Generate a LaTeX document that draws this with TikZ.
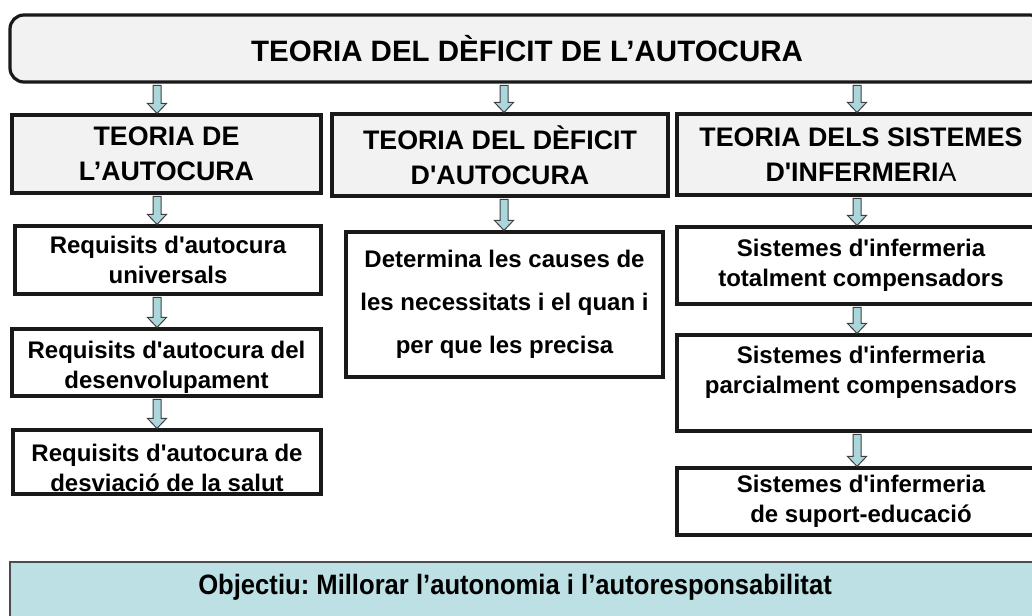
\documentclass[tikz,border=0pt]{standalone}
\usepackage{fontspec}
\usepackage{graphicx}
\setmainfont{Liberation Sans}
\usetikzlibrary{calc}
\frenchspacing

\definecolor{boxgrey}{RGB}{242,242,242}
\definecolor{arrowblue}{RGB}{170,214,220}
\definecolor{goalblue}{RGB}{189,224,229}

\newcommand{\ap}{\textquotesingle}
% hollow block arrow from #1 down to #2
\newcommand{\blockarrow}[2]{%
  \coordinate (arrs) at (#1);
  \coordinate (arre) at (#2);
  \draw[arrowbox] ($(arrs)+(-4,1.8)$) -- ($(arre)+(-4,-10)$) -- ($(arre)+(-9.5,-10)$) -- (arre)
    -- ($(arre)+(9.5,-10)$) -- ($(arre)+(4,-10)$) -- ($(arrs)+(4,1.8)$) -- cycle;}

\tikzset{
  titlebox/.style={draw=black!90, line width=3.2pt, fill=boxgrey, rounded corners=14pt,
    minimum width=1034pt, minimum height=67pt, inner sep=0pt,
    font=\fontsize{29.5}{35}\selectfont\bfseries},
  theorybox/.style={draw=black!90, line width=3.2pt, fill=boxgrey, align=center, inner sep=0pt,
    font=\fontsize{26.8}{35}\selectfont\bfseries},
  reqbox/.style={draw=black!90, line width=3.2pt, fill=white, align=center, inner sep=0pt,
    font=\fontsize{24}{30}\selectfont\bfseries},
  arrowbox/.style={fill=arrowblue, draw=black!75, line width=1pt},
  goalline/.style={draw=black!70, line width=2pt},
  goaltext/.style={inner sep=0pt, font=\fontsize{28}{30}\selectfont\bfseries}
}

\begin{document}
\begin{tikzpicture}[x=1pt,y={(0pt,-1pt)}]
\useasboundingbox (0,0) rectangle (1032,615);
\clip (0,0) rectangle (1032,615);

\coordinate (colL) at (157,0);
\coordinate (colM) at (504,0);
\coordinate (colR) at (857,0);

\node[titlebox] (top) at (527,48.5) {TEORIA DEL DÈFICIT DE L’AUTOCURA};

% three theories
\node[theorybox, minimum width=309pt, minimum height=78pt] (A) at (166.5,154) {TEORIA DE\\L’AUTOCURA};
\node[theorybox, minimum width=336pt, minimum height=82pt] (B) at (500,155) {TEORIA DEL DÈFICIT\\D\ap AUTOCURA};
\node[theorybox, minimum width=368pt, minimum height=81pt] (C) at (861,154.5) {TEORIA DELS SISTEMES\\D\ap INFERMERI{\mdseries A}};

% left column
\node[reqbox, minimum width=306pt, minimum height=68pt] (L1) at (168,260) {Requisits d\ap autocura\\universals};
\node[reqbox, minimum width=309pt, minimum height=67pt] (L2) at (166.5,362.5) {\mbox{}\\[-3pt]Requisits d\ap autocura del\\desenvolupament};
\node[reqbox, minimum width=308pt, minimum height=64pt] (L3) at (167,462) {\mbox{}\\[0pt]Requisits d\ap autocura de\\desviació de la salut};

% middle column
\node[reqbox, minimum width=317pt, minimum height=145pt, font=\fontsize{24}{43}\selectfont\bfseries] (M1) at (504.5,304.5)
  {Determina les causes de\\les necessitats i el quan i\\per que les precisa};

% right column
\node[reqbox, minimum width=368pt, minimum height=77pt] (R1) at (861,265.5) {Sistemes d\ap infermeria\\totalment compensadors};
\node[reqbox, minimum width=368pt, minimum height=96pt] (R2) at (861,383) {Sistemes d\ap infermeria\\parcialment compensadors\\[-4pt]\mbox{}};
\node[reqbox, minimum width=368pt, minimum height=67pt] (R3) at (861,501.5) {Sistemes d\ap infermeria\\de suport-educació};

\blockarrow{top.south -| colL}{A.north -| colL}
\blockarrow{top.south -| colM}{B.north -| colM}
\blockarrow{top.south -| colR}{C.north -| colR}
\blockarrow{A.south -| colL}{L1.north -| colL}
\blockarrow{L1.south -| colL}{L2.north -| colL}
\blockarrow{L2.south -| colL}{L3.north -| colL}
\blockarrow{B.south -| colM}{M1.north -| colM}
\blockarrow{C.south -| colR}{R1.north -| colR}
\blockarrow{R1.south -| colR}{R2.north -| colR}
\blockarrow{R2.south -| colR}{R3.north -| colR}

% objective
\fill[goalblue] (10,562) rectangle (1045,620);
\draw[goalline] (10,620) -- (10,562) -- (1045,562);
\node[goaltext] (goal) at (515,587) {\scalebox{0.915}[1]{Objectiu: Millorar l’autonomia i l’autoresponsabilitat}};
\end{tikzpicture}
\end{document}
